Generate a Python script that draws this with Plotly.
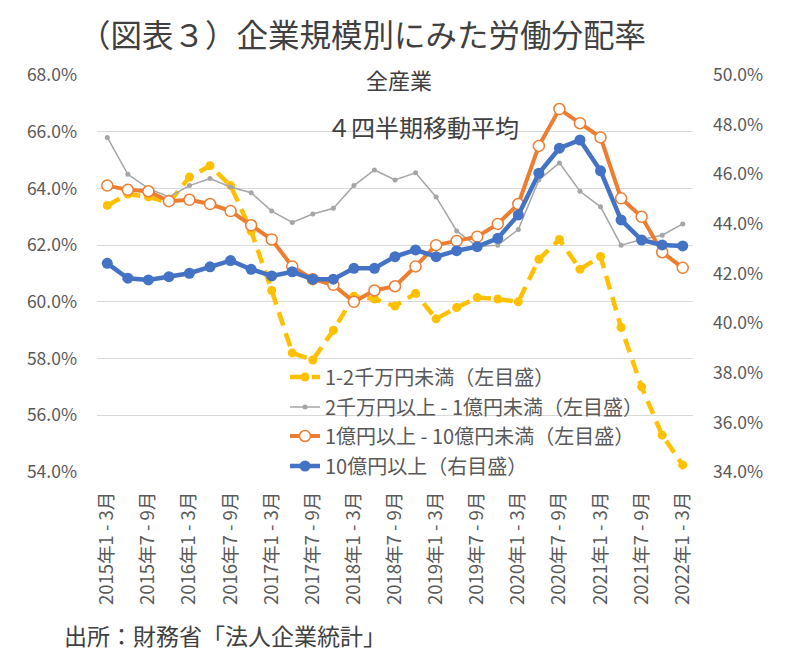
import plotly.graph_objects as go

# ---- data ----
quarters = []
for y in range(2015, 2023):
    for q in ["1 - 3", "4 - 6", "7 - 9", "10 - 12"]:
        quarters.append(f"{y}年{q}月")
quarters = quarters[:29]  # 2015年1-3月 ... 2022年1-3月
tick_labels = quarters[::2]

small_1_2k = [63.4, 63.8, 63.7, 63.5, 64.4, 64.8, 64.1, 62.5, 60.4, 58.2, 57.95, 59.0,
              60.2, 60.1, 59.85, 60.3, 59.4, 59.8, 60.15, 60.1, 60.0, 61.5, 62.2, 61.15,
              61.6, 59.1, 57.0, 55.3, 54.25]
mid_2k_1oku = [65.8, 64.5, 64.0, 63.7, 64.1, 64.35, 64.05, 63.85, 63.2, 62.8, 63.1, 63.3,
               64.1, 64.65, 64.3, 64.55, 63.7, 62.5, 61.95, 62.0, 62.55, 64.3, 64.9, 63.9,
               63.35, 62.0, 62.2, 62.35, 62.75]
large_1_10oku = [64.1, 63.95, 63.9, 63.55, 63.6, 63.45, 63.2, 62.7, 62.2, 61.25, 60.8, 60.6,
                 60.0, 60.4, 60.55, 61.25, 62.0, 62.15, 62.3, 62.75, 63.45, 65.5, 66.8, 66.3,
                 65.8, 63.65, 63.0, 61.75, 61.2]
over_10oku = [42.41, 41.81, 41.74, 41.87, 42.01, 42.27, 42.52, 42.17, 41.9, 42.07, 41.77, 41.77,
              42.21, 42.21, 42.68, 42.95, 42.68, 42.92, 43.08, 43.42, 44.36, 46.04, 47.05, 47.38,
              46.14, 44.16, 43.35, 43.15, 43.11]

names = ["1-2千万円未満（左目盛）", "2千万円以上 - 1億円未満（左目盛）",
         "1億円以上 - 10億円未満（左目盛）", "10億円以上（右目盛）"]

FONT = "Noto Sans CJK JP"
GRAY_TXT = "#595959"
OFF = 8  # page body margin

fig = go.Figure()
fig.add_trace(go.Scatter(
    x=quarters, y=small_1_2k, name=names[0], mode="lines+markers",
    line=dict(color="#FFC000", width=4.5, dash="14px,8px"),
    marker=dict(symbol="circle", size=9, color="#FFC000"),
    legend="legend"))
fig.add_trace(go.Scatter(
    x=quarters, y=mid_2k_1oku, name=names[1], mode="lines+markers",
    line=dict(color="#A5A5A5", width=1.5),
    marker=dict(symbol="circle", size=5, color="#A5A5A5"),
    legend="legend2"))
fig.add_trace(go.Scatter(
    x=quarters, y=large_1_10oku, name=names[2], mode="lines+markers",
    line=dict(color="#ED7D31", width=4),
    marker=dict(symbol="circle", size=11, color="white",
                line=dict(color="#ED7D31", width=1.5)),
    legend="legend3"))
fig.add_trace(go.Scatter(
    x=quarters, y=over_10oku, name=names[3], mode="lines+markers", yaxis="y2",
    line=dict(color="#4472C4", width=4.5),
    marker=dict(symbol="circle", size=11, color="#4472C4"),
    legend="legend4"))

def leg(ypx):
    return dict(x=(285 - 97) / 596, xanchor="left", y=(472 - ypx) / 397, yanchor="middle",
                bgcolor="rgba(0,0,0,0)", font=dict(family=FONT, size=20, color=GRAY_TXT),
                borderwidth=0)

W, H = 799 - OFF, 665 - OFF
fig.update_layout(
    width=W, height=H,
    margin=dict(l=97 - OFF, r=W - (97 - OFF) - 596, t=75 - OFF, b=H - (75 - OFF) - 397,
                autoexpand=False),
    paper_bgcolor="white", plot_bgcolor="white",
    font=dict(family=FONT, color=GRAY_TXT),
    showlegend=True,
    legend=leg(377), legend2=leg(407), legend3=leg(436), legend4=leg(466),
    xaxis=dict(type="category", categoryorder="array", categoryarray=quarters,
               range=[-0.5, len(quarters) - 0.5], automargin=False,
               tickmode="array", tickvals=tick_labels, ticktext=tick_labels,
               tickangle=-90, showgrid=False, showline=False, zeroline=False,
               tickfont=dict(family=FONT, size=18.5, color=GRAY_TXT),
               ticklabelstandoff=15),
    yaxis=dict(range=[54, 68], dtick=2, tick0=54, ticksuffix="%", tickformat=".1f",
               automargin=False,
               gridcolor="#D9D9D9", gridwidth=1.3, zeroline=False, showline=False,
               tickfont=dict(family=FONT, size=17.5, color=GRAY_TXT),
               ticklabelstandoff=19),
    yaxis2=dict(range=[34, 50], dtick=2, tick0=34, ticksuffix="%", tickformat=".1f",
                automargin=False,
                overlaying="y", side="right", showgrid=False, zeroline=False,
                showline=False,
                tickfont=dict(family=FONT, size=17.5, color=GRAY_TXT),
                ticklabelstandoff=19),
    title=dict(text="（図表３）企業規模別にみた労働分配率", x=(79 - OFF) / W, xanchor="left",
               xref="container", y=1 - (36 - OFF) / H, yanchor="middle", yref="container",
               font=dict(family=FONT, size=31.5, color="#404040")),
    annotations=[
        dict(text="全産業", x=(399 - 97) / 596, y=(472 - 79) / 397, xref="paper",
             yref="paper", showarrow=False, xanchor="center", yanchor="middle",
             font=dict(family=FONT, size=22, color="#404040")),
        dict(text="４四半期移動平均", x=(423 - 97) / 596, y=(472 - 126) / 397,
             xref="paper", yref="paper", showarrow=False, xanchor="center",
             yanchor="middle", font=dict(family=FONT, size=24, color="#404040")),
        dict(text="出所：財務省「法人企業統計」", x=(62 - 97) / 596, y=(472 - 635) / 397,
             xref="paper", yref="paper", showarrow=False, xanchor="left",
             yanchor="middle", font=dict(family=FONT, size=23, color="#404040")),
    ],
)

fig.write_html("out.html")
